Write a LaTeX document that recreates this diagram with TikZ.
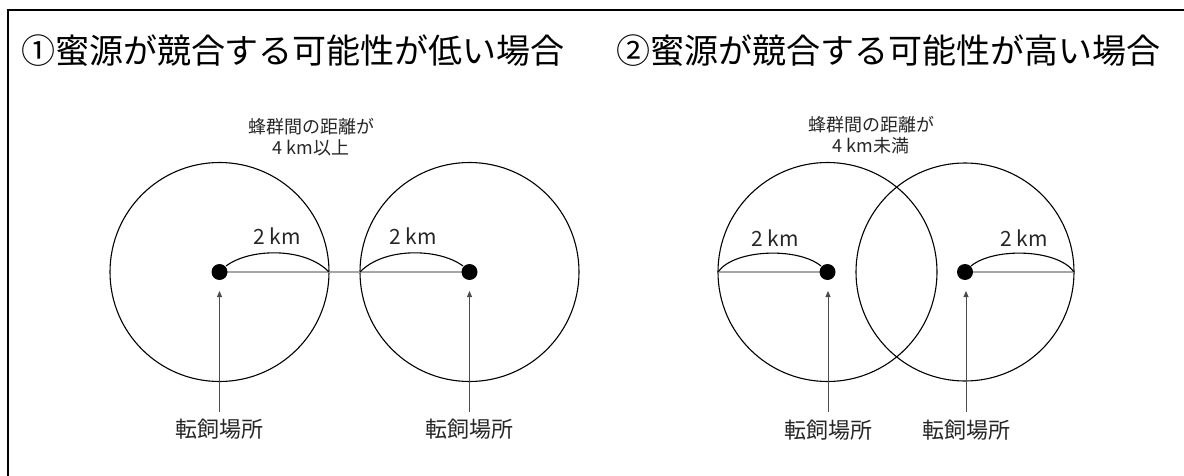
\documentclass[tikz,border=0pt]{standalone}
\usepackage{fontspec}
\newfontfamily\jp{Noto Sans CJK JP}
\usetikzlibrary{arrows.meta}
\tikzset{
  ring/.style={draw=black, line width=1.1pt},
  dotc/.style={circle, fill=black, inner sep=0pt, minimum size=16pt},
  base/.style={draw=gray!70, line width=1.2pt},
  span/.style={draw=black, line width=1.1pt},
  pointer/.style={draw=gray!60!black, line width=0.9pt, -{Triangle[length=6pt,width=5pt]}},
  ttl/.style={font=\jp\fontsize{34}{38}\selectfont, text=black, inner sep=0pt},
  sub/.style={font=\jp\fontsize{18}{21}\selectfont, text=black!85, inner sep=0pt, align=center},
  lbl/.style={font=\jp\fontsize{21}{24}\selectfont, text=black!85, inner sep=0pt},
  place/.style={font=\jp\fontsize{22}{26}\selectfont, text=black!85, inner sep=0pt},
}
\begin{document}
\begin{tikzpicture}[x=1pt,y=-1pt]
\useasboundingbox (0,0) rectangle (1184,476);
\begin{scope}
\clip (0,0) rectangle (1184,476);
\draw[line width=1.5pt] (8,10) rectangle (1200,500);
\end{scope}

% titles
\node[ttl] (t1) at (293,51) {①蜜源が競合する可能性が低い場合};
\node[ttl] (t2) at (888,51) {②蜜源が競合する可能性が高い場合};

% subtitles
\node[sub] (s1) at (311,137) {蜂群間の距離が\\4 km以上};
\node[sub] (s2) at (871,135) {蜂群間の距離が\\4 km未満};

% ---- panel 1 ----
\coordinate (c1) at (219.5,272);
\coordinate (c2) at (469.5,272);
\draw[ring] (c1) circle (109.5);
\draw[ring] (c2) circle (109.5);
\coordinate (e1) at (329,272);
\coordinate (e2) at (360,272);
\draw[base] (c1) -- (c2);
\node[dotc] (d1) at (c1) {};
\node[dotc] (d2) at (c2) {};
\draw[span] (226,266) .. controls (250,248) and (305,247) .. (e1);
\draw[span] (e2) .. controls (384,247) and (439,248) .. (463,266);
\node[lbl] (k1) at (277,236) {2 km};
\node[lbl] (k2) at (413,236) {2 km};
\node[place] (p1) at (219.5,429) {転飼場所};
\node[place] (p2) at (469.5,429) {転飼場所};
\coordinate (a1) at (219.5,412);
\coordinate (a2) at (469.5,412);
\draw[pointer] (a1) -- (219.5,291);
\draw[pointer] (a2) -- (469.5,291);

% ---- panel 2 ----
\coordinate (c3) at (827.5,272);
\coordinate (c4) at (965,272);
\draw[ring] (c3) circle (109.5);
\draw[ring] (c4) circle (109);
\coordinate (e3) at (718,272);
\coordinate (e4) at (1074,272);
\draw[base] (e3) -- (c3);
\draw[base] (c4) -- (e4);
\node[dotc] (d3) at (c3) {};
\node[dotc] (d4) at (c4) {};
\draw[span] (e3) .. controls (734,249) and (798,247) .. (821,266);
\draw[span] (971,266) .. controls (994,247) and (1058,249) .. (e4);
\node[lbl] (k3) at (775,238) {2 km};
\node[lbl] (k4) at (1024,238) {2 km};
\node[place] (p3) at (828,430) {転飼場所};
\node[place] (p4) at (966,430) {転飼場所};
\coordinate (a3) at (828,412);
\coordinate (a4) at (966,412);
\draw[pointer] (a3) -- (828,291);
\draw[pointer] (a4) -- (966,291);
\end{tikzpicture}
\end{document}
